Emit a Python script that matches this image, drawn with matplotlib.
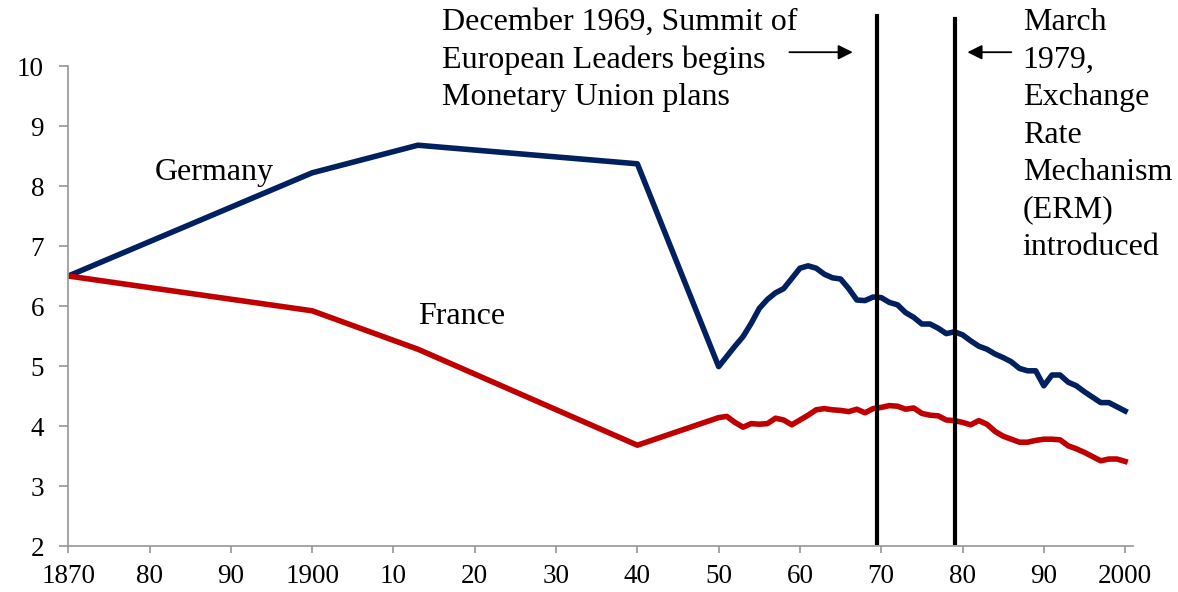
import matplotlib.pyplot as plt
from matplotlib.ticker import FixedLocator

plt.rcParams['font.family'] = ['Liberation Serif', 'DejaVu Serif']

# benchmark years before 1950, then annual
years_early = [1870, 1900, 1913, 1940]
years_annual = list(range(1950, 2001))
years = years_early + years_annual

germany = [6.50, 8.22, 8.68, 8.37,
           4.99, 5.16, 5.33, 5.49, 5.71, 5.96, 6.11, 6.22, 6.29, 6.46,
           6.63, 6.67, 6.63, 6.53, 6.47, 6.45, 6.29, 6.10, 6.09, 6.15,
           6.14, 6.06, 6.02, 5.89, 5.81, 5.70, 5.70, 5.63, 5.54, 5.57,
           5.52, 5.42, 5.33, 5.28, 5.20, 5.14, 5.07, 4.96, 4.92, 4.92,
           4.67, 4.85, 4.85, 4.73, 4.67, 4.57, 4.48, 4.39, 4.39, 4.32,
           4.25]

france = [6.50, 5.92, 5.28, 3.68,
          4.14, 4.16, 4.06, 3.98, 4.04, 4.03, 4.04, 4.13, 4.10, 4.02,
          4.10, 4.18, 4.27, 4.29, 4.27, 4.26, 4.24, 4.28, 4.22, 4.29,
          4.31, 4.34, 4.33, 4.28, 4.30, 4.21, 4.18, 4.17, 4.10, 4.09,
          4.06, 4.02, 4.09, 4.03, 3.91, 3.83, 3.78, 3.73, 3.73, 3.76,
          3.78, 3.78, 3.77, 3.67, 3.62, 3.56, 3.49, 3.42, 3.45, 3.45,
          3.41]

xticks = list(range(1870, 2001, 10))
xlabels = ['1870', '80', '90', '1900', '10', '20', '30', '40', '50',
           '60', '70', '80', '90', '2000']
yticks = list(range(2, 11))

event_years = [1969.5, 1979.1]

fig = plt.figure(figsize=(11.78, 5.92), dpi=100)
ax = fig.add_axes([0.058, 0.0777, 0.904, 0.8108])

ax.plot(years, germany, color='#002060', lw=4, solid_joinstyle='round')
ax.plot(years, france, color='#C00000', lw=4, solid_joinstyle='round')

# event markers reach above the plot area
ax.plot([event_years[0]] * 2, [2.05, 10.83], color='black', lw=3, clip_on=False)
ax.plot([event_years[1]] * 2, [2.05, 10.78], color='black', lw=3, clip_on=False)

ax.set_xlim(1870, 2001)
ax.set_ylim(2, 10)
ax.xaxis.set_major_locator(FixedLocator(xticks))
ax.set_xticklabels(xlabels)
ax.set_yticks(yticks)

for s in ['top', 'right']:
    ax.spines[s].set_visible(False)
for s in ['left', 'bottom']:
    ax.spines[s].set_color('#969696')
    ax.spines[s].set_linewidth(1.2)
ax.tick_params(axis='both', colors='#969696', labelcolor='black',
               labelsize=19.5, width=1.2, direction='out')
ax.tick_params(axis='y', length=6.5, pad=11)
ax.tick_params(axis='x', length=5, pad=8)

ax.text(1880.6, 8.23, 'Germany', fontsize=23, va='center', ha='left')
ax.text(1913.0, 5.83, 'France', fontsize=23, va='center', ha='left')

ax.text(1916.0, 10.1,
        'December 1969, Summit of\nEuropean Leaders begins\nMonetary Union plans',
        fontsize=23, va='center', ha='left', linespacing=1.38, clip_on=False)
ax.text(1987.4, 8.85,
        'March\n1979,\nExchange\nRate\nMechanism\n(ERM)\nintroduced',
        fontsize=23, va='center', ha='left', linespacing=1.38, clip_on=False)

ax.annotate('', xy=(1966.5, 10.23), xytext=(1958.7, 10.23),
            arrowprops=dict(arrowstyle='-|>', lw=1.3, color='black',
                            mutation_scale=22, shrinkA=0, shrinkB=0),
            annotation_clip=False)
ax.annotate('', xy=(1980.6, 10.23), xytext=(1986.0, 10.23),
            arrowprops=dict(arrowstyle='-|>', lw=1.3, color='black',
                            mutation_scale=22, shrinkA=0, shrinkB=0),
            annotation_clip=False)

fig.savefig('out.png', dpi=100)
